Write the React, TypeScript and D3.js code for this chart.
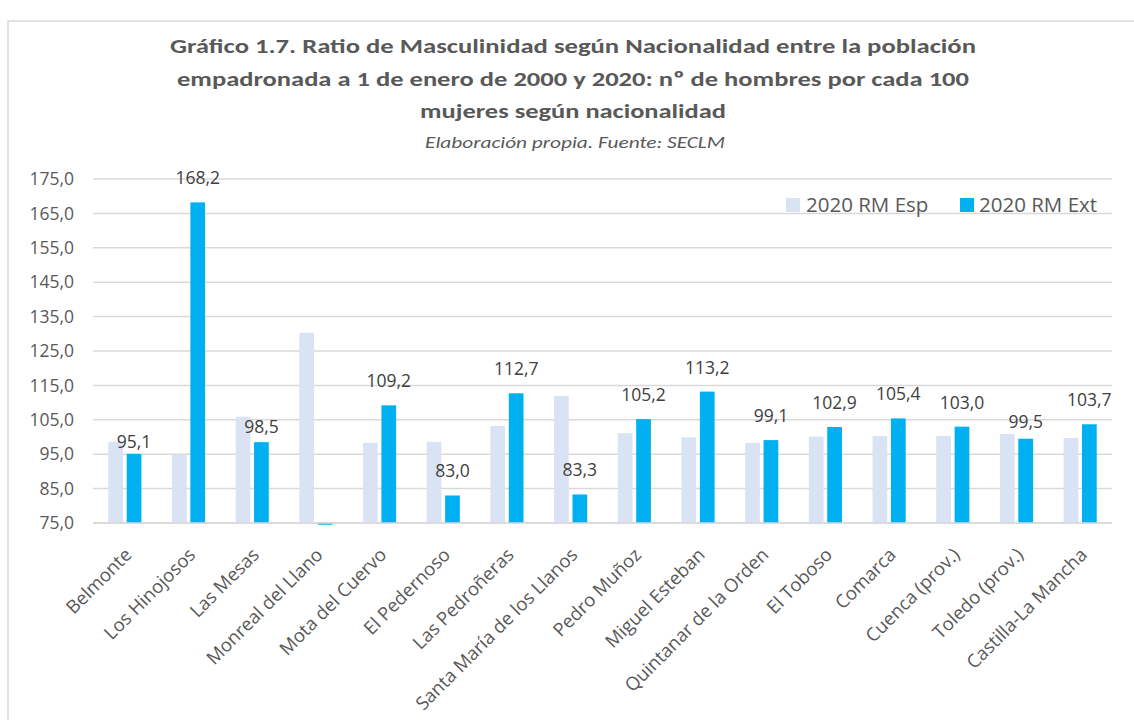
import React from 'react';
import * as d3 from 'd3';

const categories = [
    'Belmonte', 'Los Hinojosos', 'Las Mesas', 'Monreal del Llano', 'Mota del Cuervo',
    'El Pedernoso', 'Las Pedroñeras', 'Santa María de los Llanos', 'Pedro Muñoz',
    'Miguel Esteban', 'Quintanar de la Orden', 'El Toboso', 'Comarca',
    'Cuenca (prov.)', 'Toledo (prov.)', 'Castilla-La Mancha'
];
const rmEsp = [98.6, 94.8, 105.9, 130.3, 98.3, 98.6, 103.2, 111.9, 101.1, 99.9, 98.3, 100.1, 100.3, 100.3, 100.9, 99.7];
const rmExt = [95.1, 168.2, 98.5, 74.5, 109.2, 83.0, 112.7, 83.3, 105.2, 113.2, 99.1, 102.9, 105.4, 103.0, 99.5, 103.7];
const yTicks = [75, 85, 95, 105, 115, 125, 135, 145, 155, 165, 175];
const seriesNames = ['2020 RM Esp', '2020 RM Ext'];
const seriesColors = ['#DAE3F3', '#00B0F0'];

const W = 1134;
const H = 720;
const margin = { top: 179, right: 22, bottom: 197, left: 93 };
const font = "'Open Sans', 'Noto Sans', sans-serif";
const titleFont = "Carlito, Lato, 'Open Sans', sans-serif";
const textColor = '#595959';

// a few labels sit closer to their bar in the original
const labelLift: Record<string, number> = { 'Belmonte': 2, 'Las Mesas': 5, 'Toledo (prov.)': 7 };

const fmt = (v: number) => d3.format('.1f')(v).replace('.', ',');

export default function App() {
    const x = d3.scaleBand<string>()
        .domain(categories)
        .range([margin.left, W - margin.right])
        .paddingInner(0.48)
        .paddingOuter(0.24);

    const xSub = d3.scaleBand<number>()
        .domain([0, 1])
        .range([0, x.bandwidth()])
        .paddingInner(0.2);

    const y = d3.scaleLinear()
        .domain([75, 175])
        .range([H - margin.bottom, margin.top]);

    const y0 = y(75);

    return (
        <div style={{ position: 'absolute', left: 0, top: 0 }}>
            <svg width={W} height={H} style={{ display: 'block', background: '#fff' }}>
                {/* chart border */}
                <rect x={8} y={21} width={W + 10} height={H + 10} fill="none" stroke="#D9D9D9" strokeWidth={1.5} />

                {/* title */}
                <g fill={textColor} fontFamily={titleFont} fontWeight="bold" fontSize={21} textAnchor="middle">
                    <text x={573} y={53} textLength={806} lengthAdjust="spacingAndGlyphs">
                        Gráfico 1.7. Ratio de Masculinidad según Nacionalidad entre la población
                    </text>
                    <text x={573} y={86} textLength={792} lengthAdjust="spacingAndGlyphs">
                        empadronada a 1 de enero de 2000 y 2020: nº de hombres por cada 100
                    </text>
                    <text x={573} y={118} textLength={306} lengthAdjust="spacingAndGlyphs">
                        mujeres según nacionalidad
                    </text>
                </g>
                <text x={575} y={148} fill={textColor} fontFamily={titleFont} fontStyle="italic" fontSize={16}
                    textAnchor="middle" textLength={300} lengthAdjust="spacingAndGlyphs">
                    Elaboración propia. Fuente: SECLM
                </text>

                {/* grid + y ticks */}
                {yTicks.map(t => (
                    <g key={t}>
                        <line x1={margin.left} x2={W - margin.right} y1={y(t)} y2={y(t)}
                            stroke="#D9D9D9" strokeWidth={1.5} />
                        <text x={74} y={y(t)} dy="0.35em" textAnchor="end" fill={textColor}
                            fontFamily={font} fontSize={17.5}>{fmt(t)}</text>
                    </g>
                ))}

                {/* bars */}
                {categories.map((c, i) => (
                    <g key={c} transform={`translate(${x(c)},0)`}>
                        {[rmEsp[i], rmExt[i]].map((v, s) => (
                            <rect key={s}
                                x={xSub(s)}
                                y={Math.min(y(v), y0)}
                                width={xSub.bandwidth()}
                                height={Math.max(Math.abs(y0 - y(v)), 1.5)}
                                fill={seriesColors[s]} />
                        ))}
                    </g>
                ))}

                {/* data labels (ext series) */}
                {categories.map((c, i) => rmExt[i] >= 75 && (
                    <text key={c}
                        x={(x(c) as number) + (xSub(1) as number) + xSub.bandwidth() / 2}
                        y={y(rmExt[i]) - 18 + (labelLift[c] ? 18 - labelLift[c] - 4 : 0)}
                        textAnchor="middle" fill="#404040" fontFamily={font} fontSize={17.5}>
                        {fmt(rmExt[i])}
                    </text>
                ))}

                {/* x axis line */}
                <line x1={margin.left} x2={W - margin.right} y1={y0} y2={y0} stroke="#D9D9D9" strokeWidth={1.5} />

                {/* category labels */}
                {categories.map(c => {
                    const cx = (x(c) as number) + x.bandwidth() / 2;
                    return (
                        <text key={c} transform={`translate(${cx + 8},${y0 + 33}) rotate(-45)`}
                            textAnchor="end" fill={textColor} fontFamily={font} fontSize={18.5}>
                            {c}
                        </text>
                    );
                })}

                {/* legend */}
                <g fontFamily={font} fontSize={20.5} fill={textColor}>
                    <rect x={786} y={198} width={14} height={14} fill={seriesColors[0]} />
                    <text x={806} y={205} dy="0.36em">{seriesNames[0]}</text>
                    <rect x={960} y={198} width={14} height={14} fill={seriesColors[1]} />
                    <text x={979} y={205} dy="0.36em">{seriesNames[1]}</text>
                </g>
            </svg>
        </div>
    );
}
